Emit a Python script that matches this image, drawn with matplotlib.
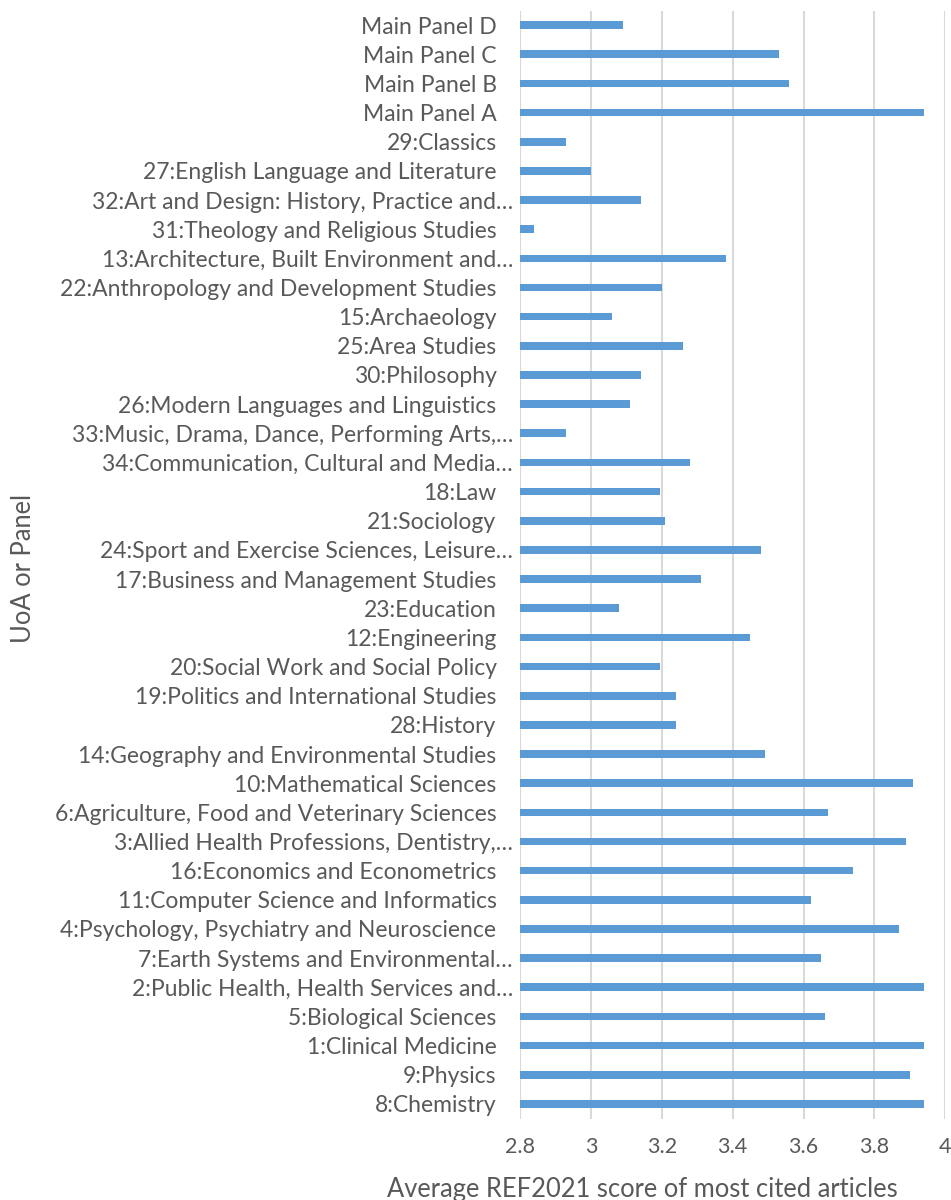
import numpy as np
import matplotlib
matplotlib.use("Agg")
import matplotlib.pyplot as plt
import matplotlib.transforms as mtransforms

# categories listed top to bottom as they appear in the chart
labels = [
    "Main Panel D", "Main Panel C", "Main Panel B", "Main Panel A",
    "29:Classics", "27:English Language and Literature",
    "32:Art and Design: History, Practice and\u2026",
    "31:Theology and Religious Studies",
    "13:Architecture, Built Environment and\u2026",
    "22:Anthropology and Development Studies",
    "15:Archaeology", "25:Area Studies", "30:Philosophy",
    "26:Modern Languages and Linguistics",
    "33:Music, Drama, Dance, Performing Arts,\u2026",
    "34:Communication, Cultural and Media\u2026",
    "18:Law", "21:Sociology",
    "24:Sport and Exercise Sciences, Leisure\u2026",
    "17:Business and Management Studies", "23:Education",
    "12:Engineering", "20:Social Work and Social Policy",
    "19:Politics and International Studies", "28:History",
    "14:Geography and Environmental Studies",
    "10:Mathematical Sciences",
    "6:Agriculture, Food and Veterinary Sciences",
    "3:Allied Health Professions, Dentistry,\u2026",
    "16:Economics and Econometrics",
    "11:Computer Science and Informatics",
    "4:Psychology, Psychiatry and Neuroscience",
    "7:Earth Systems and Environmental\u2026",
    "2:Public Health, Health Services and\u2026",
    "5:Biological Sciences", "1:Clinical Medicine", "9:Physics",
    "8:Chemistry",
]
scores = [
    3.09, 3.53, 3.56, 3.94,
    2.93, 3.00, 3.14, 2.84, 3.38, 3.20,
    3.06, 3.26, 3.14, 3.11, 2.93, 3.28,
    3.195, 3.21, 3.48, 3.31, 3.08, 3.45, 3.195, 3.24, 3.24, 3.49,
    3.91, 3.67, 3.89, 3.74, 3.62, 3.87, 3.65, 3.94, 3.66, 3.94, 3.90,
    3.94,
]
xticks = [2.8, 3.0, 3.2, 3.4, 3.6, 3.8, 4.0]
xticklabels = ["2.8", "3", "3.2", "3.4", "3.6", "3.8", "4"]

plt.rcParams['font.family'] = ['Lato', 'DejaVu Sans']
txt = '#595959'

W, H = 951, 1200
fig = plt.figure(figsize=(W / 100, H / 100), dpi=100)
ax = fig.add_axes([520 / W, 1 - 1118.5 / H, (945.3 - 520) / W, (1118.5 - 10.5) / H])

y = np.arange(len(labels))
ax.barh(y, np.array(scores) - 2.8, left=2.8, height=0.26, color='#5B9BD5', zorder=3)
ax.set_ylim(len(labels) - 0.5, -0.5)
ax.set_xlim(2.8, 4.0)
ax.set_yticks(y)
ax.set_yticklabels([])
ax.set_xticks(xticks)
ax.set_xticklabels(xticklabels, fontsize=15.5, color=txt)
ax.tick_params(axis='y', length=0)
ax.tick_params(axis='x', length=0, pad=13)
for s in ax.spines.values():
    s.set_visible(False)
ax.grid(axis='x', color='#D9D9D9', linewidth=1.5, zorder=0)

# category labels: truncated ones sit closer to the axis, as in Excel
base = ax.get_yaxis_transform()
for yi, lab in zip(y, labels):
    dx = -7 if lab.endswith("\u2026") else -23.5
    tr = mtransforms.offset_copy(base, fig=fig, x=dx, y=-2, units='dots')
    ax.text(0, yi, lab, transform=tr, ha='right', va='center',
            fontsize=16.5, color=txt, clip_on=False)

fig.text(642 / W, 1 - 1197 / H, "Average REF2021 score of most cited articles",
         ha='center', va='baseline', fontsize=18.4, color=txt)
fig.text(24 / W, 1 - 568 / H, "UoA or Panel", rotation=90,
         ha='center', va='center', fontsize=18.4, color=txt)

fig.savefig("out.png", dpi=100)
